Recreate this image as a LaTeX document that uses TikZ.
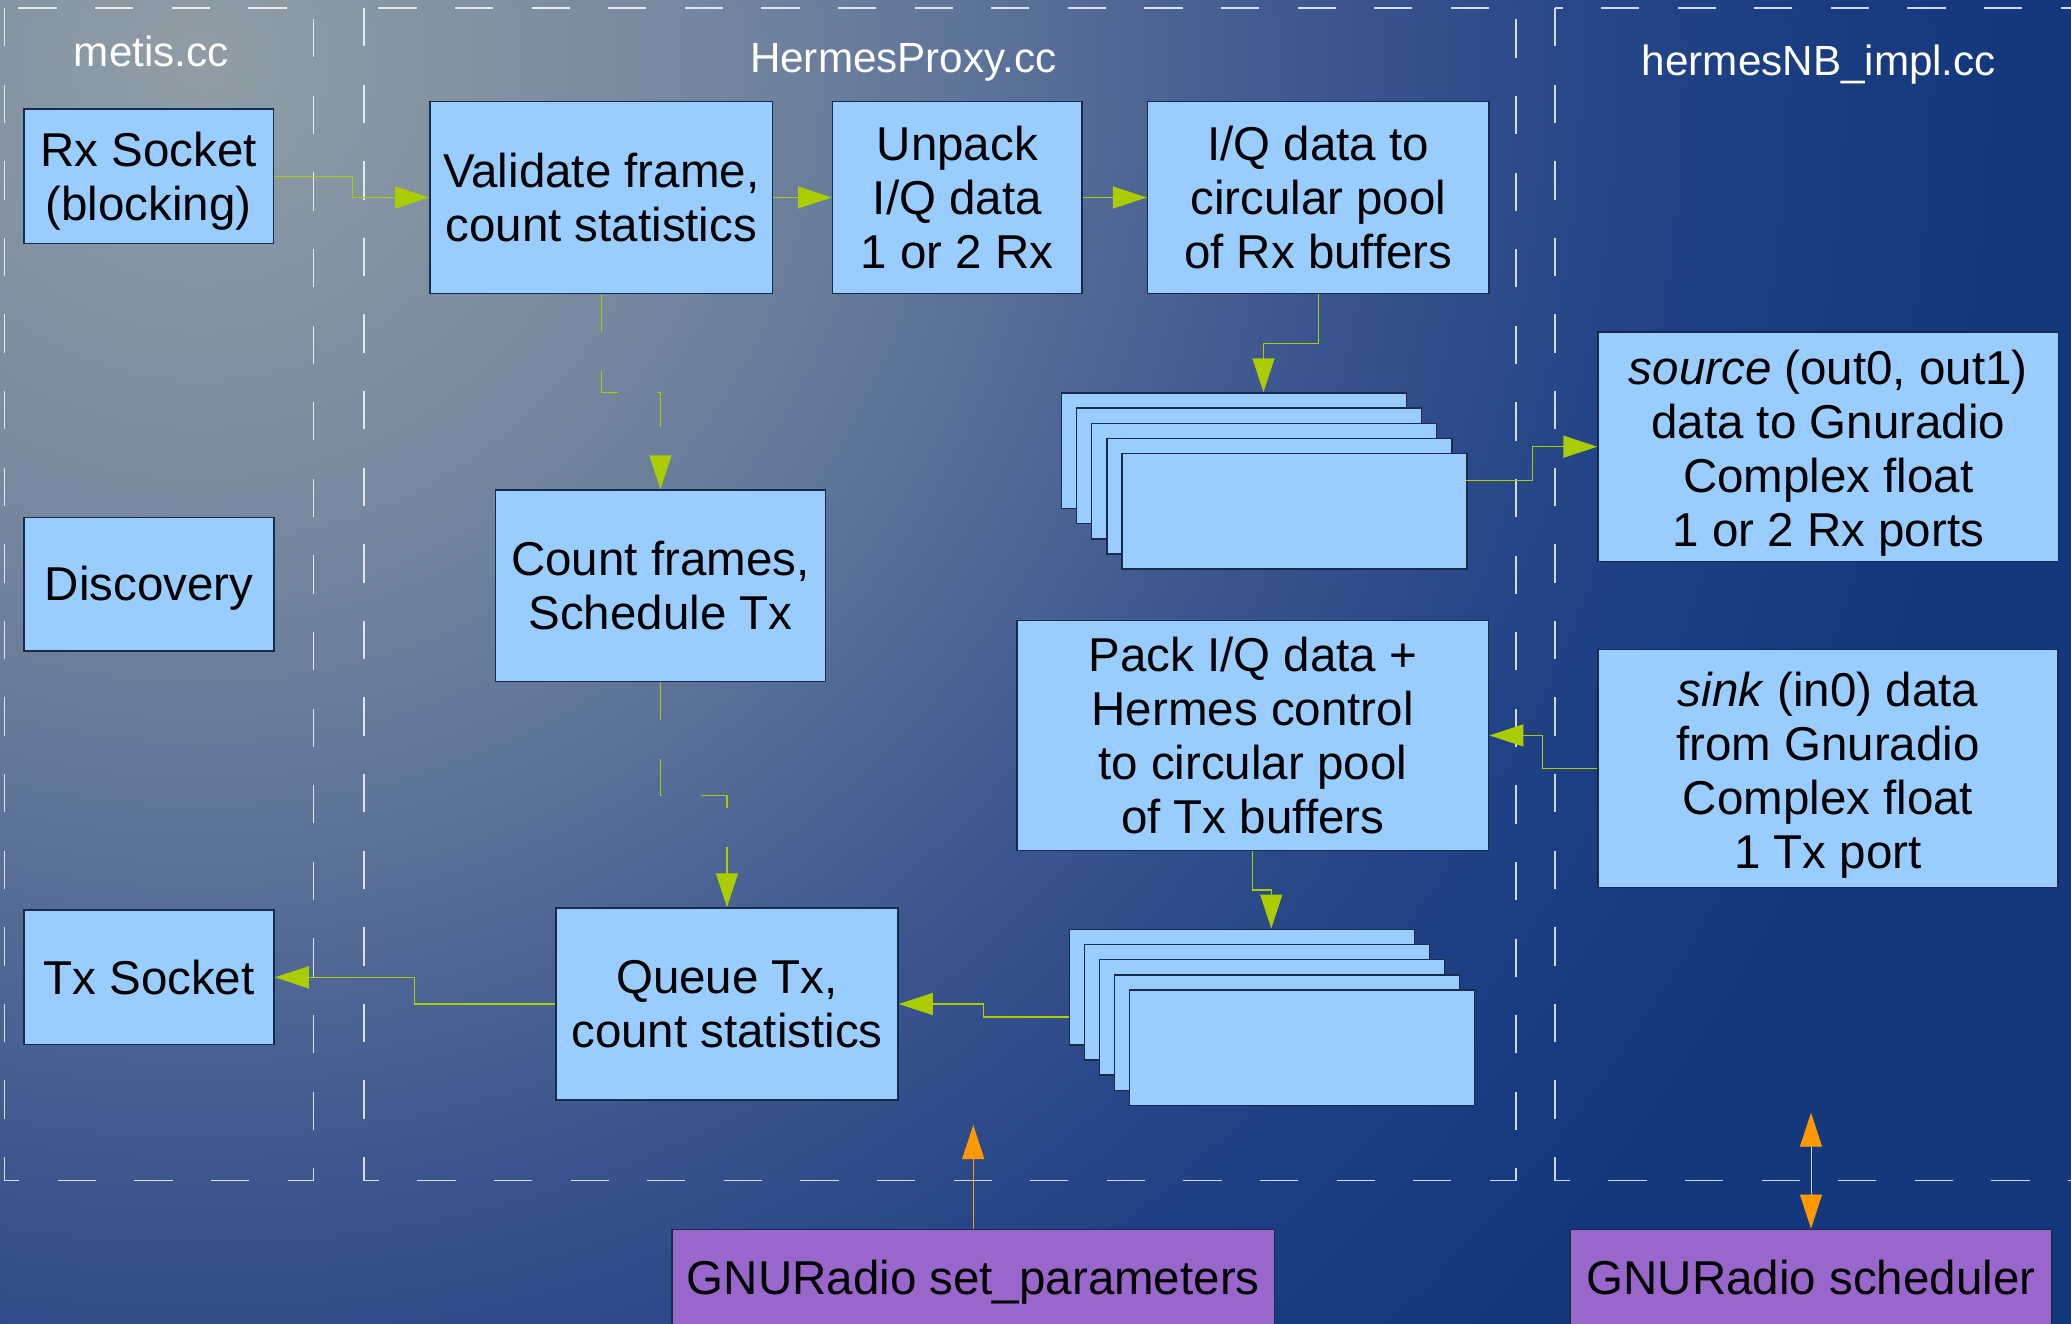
\documentclass[tikz,border=0pt]{standalone}
\usepackage{fontspec}
\setmainfont{Liberation Sans}
\usetikzlibrary{arrows.meta,calc}
\definecolor{bg0}{HTML}{909DA6}
\definecolor{bg1}{HTML}{7A8BA0}
\definecolor{bg2}{HTML}{5C7299}
\definecolor{bg3}{HTML}{3A548E}
\definecolor{bg4}{HTML}{1E4084}
\definecolor{bg5}{HTML}{14387E}
\definecolor{boxfill}{HTML}{99CCFF}
\definecolor{boxline}{HTML}{1A2A4A}
\definecolor{purplefill}{HTML}{9966CC}
\definecolor{gline}{HTML}{AACC00}
\definecolor{oline}{HTML}{FF9900}
\definecolor{shaft}{HTML}{C8D0E0}
\pgfdeclareradialshading{bgshade}{\pgfpoint{0bp}{0bp}}{color(0bp)=(bg0); color(6bp)=(bg1); color(11bp)=(bg2); color(16bp)=(bg3); color(21bp)=(bg4); color(25bp)=(bg5); color(50bp)=(bg5)}
\tikzset{
  box/.style={draw=boxline, fill=boxfill, line width=0.75pt, align=center, inner sep=0pt,
    font=\fontsize{23.75}{27}\selectfont, text=black},
  pbox/.style={box, fill=purplefill, text height=17.3pt, text depth=5pt},
  frame/.style={draw=white, draw opacity=0.8, line width=0.65pt, dash pattern=on 19.15pt off 19.15pt},
  lbl/.style={text=white, font=\fontsize{21.1}{25}\selectfont, anchor=base, inner sep=0pt},
  garrow/.style={draw=gline, line width=0.7pt, -{Triangle[length=17pt,width=11pt]}},
  gdash/.style={garrow, dash pattern=on 19pt off 19.5pt},
  oarrow/.style={draw=oline, line width=0.5pt, -{Triangle[length=17pt,width=11pt]}},
  odouble/.style={draw=shaft, line width=0.4pt,
    {Triangle[length=17pt,width=11pt,color=oline]}-{Triangle[length=17pt,width=11pt,color=oline]}},
  buf/.style={draw=boxline, fill=boxfill, line width=0.75pt, minimum width=172.5pt, minimum height=57.75pt, inner sep=0pt, anchor=north west}
}
\begin{document}
\begin{tikzpicture}[x=0.5pt,y=-0.5pt]
\useasboundingbox (0,0) rectangle (2071,1323);
% background
\fill[bg5] (-10,-10) rectangle (2081,1333);
\begin{scope}
\clip (-10,-10) rectangle (2081,1333);
\shade[shading=bgshade] (200,60) circle (1800);
\end{scope}
% frames
\draw[frame] (4.5,8) rectangle (313.7,1180.3);
\draw[frame] (364,8) rectangle (1516,1180.3);
\draw[frame] (1555,8) rectangle (2110,1180.3);
% labels
\node[lbl] (lmetis) at (151.3,66.7) {metis.cc};
\node[lbl] (lproxy) at (903.2,72) {HermesProxy.cc};
\node[lbl] (limpl) at (1818.9,75) {hermesNB\_impl.cc};
% boxes
\node[box, minimum width=124.75pt, minimum height=67.15pt] (rx) at (148.7,176.2) {\rule{0pt}{22.7pt}Rx Socket\\(blocking)};
\node[box, minimum width=125pt, minimum height=66.75pt] (disc) at (149,584.3) {\rule{0pt}{21.4pt}Discovery};
\node[box, minimum width=125pt, minimum height=67.3pt] (tx) at (149,977.3) {Tx Socket};
\node[box, minimum width=171.35pt, minimum height=95.8pt] (val) at (601.3,197.5) {Validate frame,\\count statistics};
\node[box, minimum width=124.75pt, minimum height=96pt] (unp) at (957.3,197.5) {Unpack\\I/Q data\\1 or 2 Rx};
\node[box, minimum width=170.75pt, minimum height=96pt] (iq) at (1318.3,197.5) {I/Q data to\\circular pool\\of Rx buffers};
\node[box, minimum width=165.1pt, minimum height=95.75pt] (cnt) at (660.4,585.8) {Count frames,\\Schedule Tx};
\node[box, minimum width=235.9pt, minimum height=114.9pt] (pack) at (1252.7,735.4) {Pack I/Q data +\\Hermes control\\to circular pool\\of Tx buffers};
\node[box, minimum width=171pt, minimum height=96pt] (queue) at (727,1004) {Queue Tx,\\count statistics};
\node[box, minimum width=230.25pt, minimum height=114.9pt] (src) at (1828.3,446.7) {\rule{0pt}{24pt}\textit{source} (out0, out1)\\data to Gnuradio\\Complex float\\1 or 2 Rx ports};
\node[box, minimum width=230pt, minimum height=119.05pt] (sink) at (1828,768.5) {\rule{0pt}{24pt}\textit{sink} (in0) data\\from Gnuradio\\Complex float\\1 Tx port};
\node[pbox, minimum width=301.25pt, minimum height=52.7pt] (setp) at (973.25,1282) {GNURadio set\_parameters};
\node[pbox, minimum width=241pt, minimum height=52.7pt] (sched) at (1811,1282) {GNURadio scheduler};
% buffer stacks
\foreach \k in {0,...,4} {
  \node[buf] (rxb\k) at (1060.7+15.1*\k, 392.3+15.1*\k) {};
  \node[buf] (txb\k) at (1068.5+15.1*\k, 928.6+15.15*\k) {};
}
\coordinate (rxin) at (1263.5,392.3);
\coordinate (rxout) at (1466.3,480.2);
\coordinate (txin) at (1271.25,928.6);
\coordinate (txout) at (1068.5,1016.8);
\coordinate (oset) at (973.25,1125);
\coordinate (osch) at (1811,1112.7);
% connectors
\draw[garrow] (rx.east) -- ++(78,0) |- (val.west);
\draw[garrow] (val.east) -- (val.east -| unp.west);
\draw[garrow] (unp.east) -- (unp.east -| iq.west);
\draw[garrow] (iq.south) -- ++(0,49.4) -| (rxin);
\draw[garrow] (rxout) -- ++(66,0) |- (src.west);
\draw[garrow] (sink.west) -- ++(-54.7,0) |- (pack.east);
\draw[garrow] (pack.south) -- ++(0,39.1) -| (txin);
\draw[garrow] (txout) -- ++(-85.25,0) |- (queue.east);
\draw[garrow] (queue.west) -- ++(-141,0) |- (tx.east);
\draw[gdash] (val.south) -- ++(0,98.4) -| (cnt.north);
\draw[gdash] (cnt.south) -- ++(0,113.25) -| (queue.north);
\draw[oarrow] (setp.north) -- (oset);
\draw[odouble] (osch) -- (sched.north);
\end{tikzpicture}
\end{document}
